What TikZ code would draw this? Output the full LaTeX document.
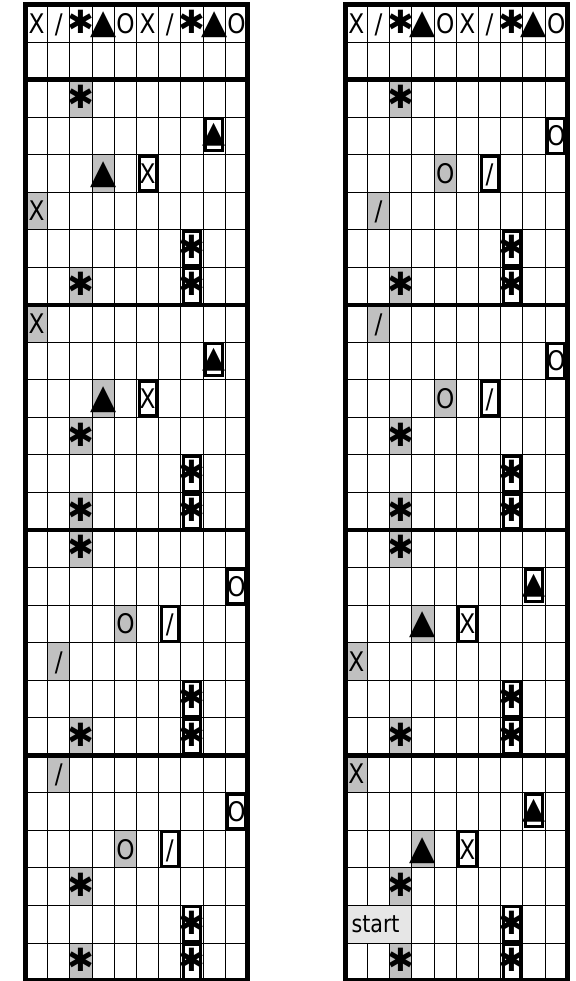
\documentclass[tikz,border=0pt]{standalone}
\usepackage{fontspec}
\newfontfamily\cellfont[FakeStretch=0.86]{DejaVu Sans}
\newfontfamily\symbfont{DejaVu Sans}
\definecolor{cellgray}{RGB}{192,192,192}
\definecolor{startgray}{RGB}{230,230,230}
\newcommand{\gX}{X}
\newcommand{\gSl}{/}
\newcommand{\gO}{O}
\newcommand{\gAs}{{\fontsize{32}{32}\selectfont\symbfont ✱}}
\newcommand{\gTr}{{\fontsize{34}{34}\selectfont\symbfont ▲}}
\newcommand{\gTrSmall}{{\fontsize{30}{30}\selectfont\symbfont ▲}}
\tikzset{
  glyph/.style={font=\fontsize{27}{27}\selectfont\cellfont, inner sep=0pt, text height=19.7pt, text depth=0pt},
  thinline/.style={line width=1pt},
  sepline/.style={line width=4.5pt},
  frameline/.style={line width=5pt},
  cellbox/.style={draw, line width=3pt}
}
% #1 name, #2 x shift, #3 gray cells, #4 boxed cells, #5 underlined triangles
\newcommand{\board}[5]{%
\begin{scope}[xshift=#2, yshift=-4.5pt]
  \foreach \c/\r/\g in {#3}
    \fill[cellgray] (\c,\r) rectangle (\c+1,\r+1);
  \foreach \x in {1,...,9}
    \draw[thinline] (\x,0) -- (\x,26);
  \foreach \y in {1,...,25}
    \draw[thinline] (0,\y) -- (10,\y);
  % header row
  \foreach \g [count=\i from 0] in {\gX,\gSl,\gAs,\gTr,\gO,\gX,\gSl,\gAs,\gTr,\gO}
    \node[glyph] (#1-h\i) at (\i+0.5,0.5) {\g};
  \foreach \c/\r/\g in {#3}
    \node[glyph] (#1-g\c-\r) at (\c+0.5,\r+0.5) {\g};
  \foreach \c/\r/\g in {#4} {
    \node[glyph] (#1-b\c-\r) at (\c+0.5,\r+0.5) {\g};
    \draw[cellbox] ([shift={(2.5pt,-1.5pt)}]\c,\r) rectangle ([shift={(-2.5pt,1.5pt)}]\c+1,\r+1);
  }
  \foreach \c/\r in {#5} {
    \node[glyph, yshift=3pt] (#1-t\c-\r) at (\c+0.5,\r+0.5) {\gTrSmall};
    \fill ([shift={(4pt,-23pt)}]\c,\r) rectangle ([shift={(-4pt,-27.3pt)}]\c+1,\r);
    \draw[cellbox] ([shift={(2.5pt,-1.5pt)}]\c,\r) rectangle ([shift={(-2.5pt,-33.5pt)}]\c+1,\r);
  }
  \foreach \y in {2,8,14,20}
    \draw[sepline] (0,\y) -- (10,\y);
  \draw[frameline] (0,0) rectangle (10,26);
\end{scope}}

\begin{document}
\begin{tikzpicture}[x=22.2pt, y=-37.54pt]
\useasboundingbox (0pt,0pt) rectangle (575pt,-981pt);

\board{left}{25.5pt}
  {2/2/\gAs, 3/4/\gTr, 0/5/\gX, 2/7/\gAs, 0/8/\gX, 3/10/\gTr, 2/11/\gAs, 2/13/\gAs,
   2/14/\gAs, 4/16/\gO, 1/17/\gSl, 2/19/\gAs, 1/20/\gSl, 4/22/\gO, 2/23/\gAs, 2/25/\gAs}
  {5/4/\gX, 7/6/\gAs, 7/7/\gAs, 5/10/\gX, 7/12/\gAs, 7/13/\gAs, 9/15/\gO, 6/16/\gSl,
   7/18/\gAs, 7/19/\gAs, 9/21/\gO, 6/22/\gSl, 7/24/\gAs, 7/25/\gAs}
  {8/3, 8/9}

\board{right}{345.3pt}
  {2/2/\gAs, 4/4/\gO, 1/5/\gSl, 2/7/\gAs, 1/8/\gSl, 4/10/\gO, 2/11/\gAs, 2/13/\gAs,
   2/14/\gAs, 3/16/\gTr, 0/17/\gX, 2/19/\gAs, 0/20/\gX, 3/22/\gTr, 2/23/\gAs, 2/25/\gAs}
  {9/3/\gO, 6/4/\gSl, 7/6/\gAs, 7/7/\gAs, 9/9/\gO, 6/10/\gSl, 7/12/\gAs, 7/13/\gAs,
   5/16/\gX, 7/18/\gAs, 7/19/\gAs, 5/22/\gX, 7/24/\gAs, 7/25/\gAs}
  {8/15, 8/21}

% start label on the right board
\begin{scope}[xshift=345.3pt, yshift=-4.5pt]
  \fill[startgray] ([shift={(2.5pt,-0.5pt)}]0,24) rectangle ([shift={(-0.5pt,0.5pt)}]3,25);
  \node[font=\fontsize{24}{24}\selectfont\cellfont, inner sep=0pt, anchor=west] (start) at ([xshift=6pt]0,24.5) {start};
\end{scope}
\end{tikzpicture}
\end{document}
